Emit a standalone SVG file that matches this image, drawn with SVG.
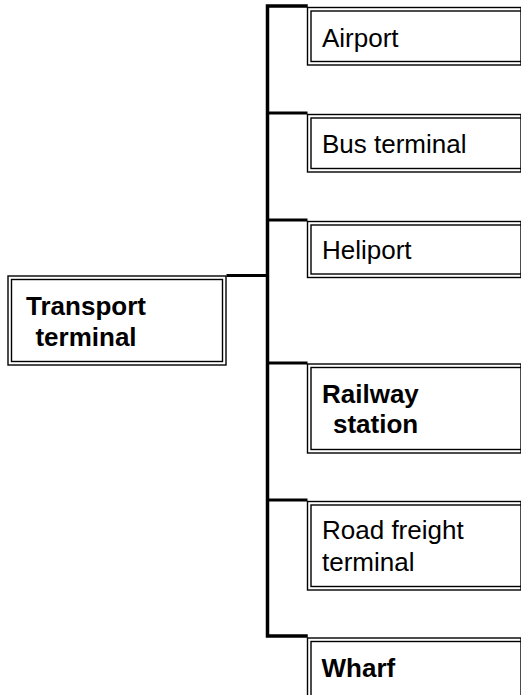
<svg xmlns="http://www.w3.org/2000/svg" width="521" height="695" viewBox="0 0 521 695">
<style>
  .o { fill: #fff; stroke: #000; stroke-width: 1.4; }
  .i { fill: none; stroke: #000; stroke-width: 1.4; }
  .c { fill: none; stroke: #000; stroke-width: 3; stroke-linejoin: miter; stroke-linecap: square; }
  .t { font-family: "Liberation Sans", Arial, sans-serif; font-size: 26px; fill: #000; }
  .b { font-weight: bold; }
</style>
<rect width="521" height="695" fill="#fff"/>
<g id="connectors">
  <path class="c" d="M306,6 H267.5 V636 H306" style="stroke-width:3.5"/>
  <line class="c" x1="269" y1="113" x2="306" y2="113"/>
  <line class="c" x1="269" y1="220" x2="306" y2="220"/>
  <line class="c" x1="228" y1="275.5" x2="266" y2="275.5"/>
  <line class="c" x1="269" y1="363" x2="306" y2="363"/>
  <line class="c" x1="269" y1="500" x2="306" y2="500"/>
</g>
<g id="root">
  <rect class="o" x="8" y="276" width="218" height="89"/>
  <rect class="i" x="11.5" y="279.5" width="211" height="82"/>
  <text class="t b" x="86" y="315" text-anchor="middle">Transport</text>
  <text class="t b" x="86" y="346" text-anchor="middle">terminal</text>
</g>
<g id="airport">
  <rect class="o" x="307.5" y="7.5" width="213.5" height="57.5"/>
  <rect class="i" x="311" y="11" width="215" height="50.5"/>
  <text class="t" x="322" y="47">Airport</text>
</g>
<g id="bus">
  <rect class="o" x="307.5" y="114.5" width="213.5" height="57.5"/>
  <rect class="i" x="311" y="118" width="215" height="50.5"/>
  <text class="t" x="322" y="153">Bus terminal</text>
</g>
<g id="heliport">
  <rect class="o" x="307.5" y="221.5" width="213.5" height="56"/>
  <rect class="i" x="311" y="225" width="215" height="49"/>
  <text class="t" x="322" y="259">Heliport</text>
</g>
<g id="railway">
  <rect class="o" x="307.5" y="364" width="213.5" height="89"/>
  <rect class="i" x="311" y="367.5" width="215" height="82"/>
  <text class="t b" x="322" y="403">Railway</text>
  <text class="t b" x="333" y="433">station</text>
</g>
<g id="road">
  <rect class="o" x="307.5" y="501.5" width="213.5" height="88.5"/>
  <rect class="i" x="311" y="505" width="215" height="81.5"/>
  <text class="t" x="322" y="539">Road freight</text>
  <text class="t" x="322" y="570.5">terminal</text>
</g>
<g id="wharf">
  <rect class="o" x="307.5" y="638" width="213.5" height="70"/>
  <rect class="i" x="311" y="641.5" width="215" height="70"/>
  <text class="t b" x="321.5" y="677">Wharf</text>
</g>
</svg>
